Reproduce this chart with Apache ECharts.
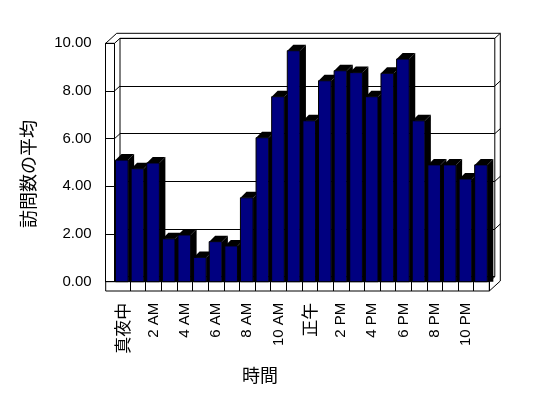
<!DOCTYPE html>
<html>
<head>
<meta charset="utf-8">
<script src="https://cdn.jsdelivr.net/npm/echarts@6/dist/echarts.min.js"></script>
<style>
  html, body { margin: 0; padding: 0; background: #fff; }
  #main { width: 548px; height: 398px; }
</style>
</head>
<body>
<div id="main"></div>
<script>
var hours = ['真夜中', '1 AM', '2 AM', '3 AM', '4 AM', '5 AM', '6 AM', '7 AM', '8 AM', '9 AM', '10 AM', '11 AM',
  '正午', '1 PM', '2 PM', '3 PM', '4 PM', '5 PM', '6 PM', '7 PM', '8 PM', '9 PM', '10 PM', '11 PM'];
var visits = [5.10, 4.74, 4.98, 1.80, 1.96, 1.02, 1.68, 1.50, 3.52, 6.04, 7.76, 9.69,
  6.75, 8.43, 8.85, 8.77, 7.76, 8.74, 9.34, 6.75, 4.90, 4.90, 4.31, 4.90];
var yTicks = [0, 2, 4, 6, 8, 10];

var W = 548, H = 398;
// front plane of the plot
var L0 = 105.7, L1 = 114.5, R1 = 489.3, T1 = 43.3, B1 = 281.7, B0 = 291;
// depth of walls, depth of bars
var BX = 5.5, BY = -5;
var DX = 6, DY = -6;
var latin = '"Liberation Sans", Arial, sans-serif';
var cjk = '"Noto Sans CJK JP", sans-serif';

var dom = document.getElementById('main');
var myChart = echarts.init(dom, null, { renderer: 'canvas' });

function renderBar(params, api) {
  var p = api.coord([api.value(0), api.value(1)]);
  var base = api.coord([api.value(0), 0]);
  var band = api.size([1, 0])[0];
  var x0 = p[0] - band / 2 + 1;
  var x1 = x0 + band * 0.81;
  var yt = p[1], yb = base[1];
  return {
    type: 'group',
    z2: params.dataIndex,
    children: [
      { type: 'polygon', shape: { points: [[x1, yt], [x1 + DX, yt + DY], [x1 + DX, yb], [x1, yb]] },
        style: { fill: '#000' } },
      { type: 'polygon', shape: { points: [[x0, yt], [x0 + DX, yt + DY], [x1 + DX, yt + DY], [x1, yt]] },
        style: { fill: '#000' } },
      { type: 'rect', shape: { x: x0, y: yt, width: x1 - x0, height: yb - yt },
        style: { fill: '#000080', stroke: '#000', lineWidth: 1 } }
    ]
  };
}

var option = {
  animation: false,
  backgroundColor: '#fff',
  grid: [
    { left: L1, right: W - R1, top: T1, bottom: H - B1, show: false },
    { left: L1 + BX, right: W - R1 - BX, top: T1 + BY, bottom: H - B1 - BY,
      show: true, borderColor: '#000', borderWidth: 1, backgroundColor: '#fff', z: 0 }
  ],
  xAxis: [
    {
      type: 'category', gridIndex: 0, data: hours,
      axisLine: { lineStyle: { color: '#000', width: 1 } },
      axisTick: { show: true, length: B0 - B1, lineStyle: { color: '#000' },
        interval: function (index) { return index !== 0; } },
      axisLabel: {
        interval: 1, rotate: 90, margin: 21, color: '#000',
        fontFamily: latin, fontSize: 15,
        formatter: function (v) {
          return /[^\x00-\x7f]/.test(v) ? '{c|' + v + '}' : v;
        },
        rich: { c: { fontFamily: cjk, fontSize: 17, color: '#000' } }
      }
    },
    { type: 'category', gridIndex: 1, data: hours, show: false }
  ],
  yAxis: [
    {
      type: 'value', gridIndex: 0, min: 0, max: 10, interval: 2, offset: L1 - L0,
      axisLine: { show: true, lineStyle: { color: '#000', width: 1 } },
      axisTick: { show: true, inside: true, length: L1 - L0, lineStyle: { color: '#000' } },
      splitLine: { show: false },
      axisLabel: { margin: 14, color: '#000', fontFamily: latin, fontSize: 15,
        formatter: function (v) { return v.toFixed(2); } }
    },
    {
      type: 'value', gridIndex: 1, min: 0, max: 10, interval: 2,
      axisLine: { show: false }, axisTick: { show: false }, axisLabel: { show: false },
      splitLine: { show: true, lineStyle: { color: '#000', width: 1 } }
    }
  ],
  series: [
    {
      type: 'custom',
      xAxisIndex: 0, yAxisIndex: 0,
      renderItem: renderBar,
      encode: { x: 0, y: 1 },
      data: visits.map(function (v, i) { return [i, v]; }),
      z: 5
    }
  ]
};

myChart.setOption(option);

// frame of the walls and floor, placed from the axes
function seg(a, b) {
  return { type: 'line', shape: { x1: a[0], y1: a[1], x2: b[0], y2: b[1] },
    style: { stroke: '#000', lineWidth: 1 }, z: 3, silent: true };
}
var els = [];
els.push({ type: 'rect', shape: { x: L0, y: B1, width: R1 - L0, height: B0 - B1 },
  style: { fill: 'none', stroke: '#000', lineWidth: 1 }, z: 3 });
els.push(seg([L1, T1], [L1, B1]));
els.push(seg([L0, T1], [L1, T1]));
els.push(seg([L0, T1], [L0 + 2 * BX, T1 + 2 * BY]));
els.push(seg([L1, T1], [L1 + BX, T1 + BY]));
els.push(seg([L0 + 2 * BX, T1 + 2 * BY], [R1 + 2 * BX, T1 + 2 * BY]));
els.push(seg([R1 + BX, T1 + BY], [R1 + 2 * BX, T1 + 2 * BY]));
els.push(seg([R1 + 2 * BX, T1 + 2 * BY], [R1 + 2 * BX, B0 + 2 * BY]));
els.push(seg([R1, B1], [R1 + BX, B1 + BY]));
els.push(seg([R1, B0], [R1 + 2 * BX, B0 + 2 * BY]));
yTicks.forEach(function (v) {
  if (v === 0 || v === 10) return;
  var yf = myChart.convertToPixel({ yAxisIndex: 0 }, v);
  var yb = myChart.convertToPixel({ yAxisIndex: 1 }, v);
  els.push(seg([L1, yf], [L1 + BX, yb]));
  els.push(seg([R1 + BX, yb], [R1 + 2 * BX, yb + BY]));
});
els.push({ type: 'text', x: 28.3, y: 174, rotation: Math.PI / 2,
  style: { text: '訪問数の平均', fontFamily: cjk, fontSize: 18, fill: '#000',
    align: 'center', verticalAlign: 'middle' } });
els.push({ type: 'text', x: 260, y: 375.5,
  style: { text: '時間', fontFamily: cjk, fontSize: 18, fill: '#000',
    align: 'center', verticalAlign: 'middle' } });

myChart.setOption({ graphic: { elements: els } });

window.addEventListener('resize', myChart.resize);
</script>
</body>
</html>
